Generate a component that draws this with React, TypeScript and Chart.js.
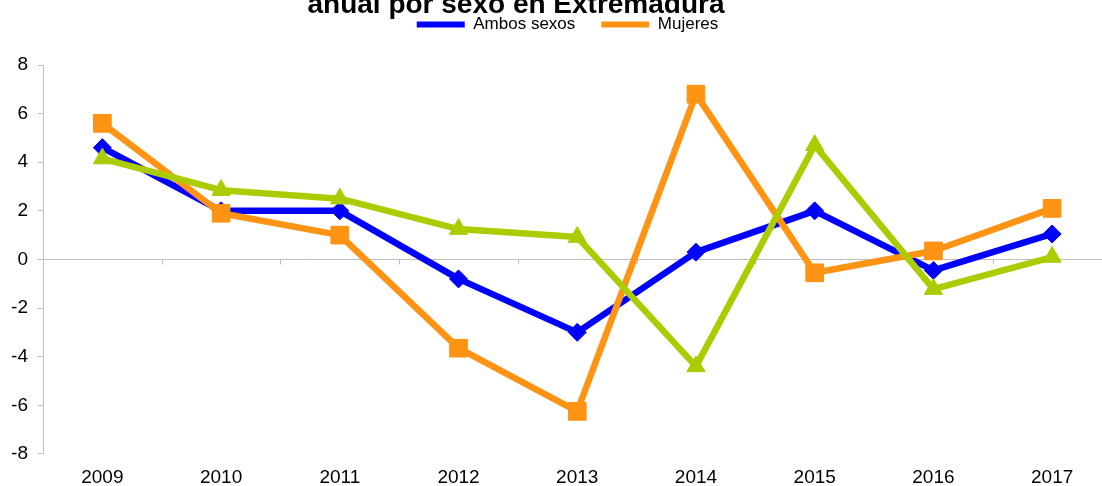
import React, { useEffect, useRef } from 'react';
import { Chart, registerables } from 'chart.js';

Chart.register(...registerables);

const years = ['2009', '2010', '2011', '2012', '2013', '2014', '2015', '2016', '2017'];
const ambosSexos = [4.6, 2.0, 2.0, -0.8, -3.0, 0.3, 2.0, -0.45, 1.05];
const mujeres = [5.6, 1.9, 1.0, -3.65, -6.25, 6.8, -0.55, 0.35, 2.1];
const hombres = [4.15, 2.85, 2.5, 1.25, 0.92, -4.4, 4.7, -1.22, 0.1];
const titleLine = 'anual por sexo en Extremadura';
const seriesNames = ['Ambos sexos', 'Mujeres', 'Hombres'];

const FONT = '"Liberation Sans", Arial, sans-serif';
const BLUE = '#0000FF';
const ORANGE = '#FF9314';
const GREEN = '#AACC00';
const GRAY = '#BFBFBF';

const titlePlugin = {
  id: 'topTitle',
  afterDraw(chart: any) {
    const ctx = chart.ctx;
    ctx.save();
    ctx.font = 'bold 28px ' + FONT;
    ctx.fillStyle = '#000';
    ctx.textAlign = 'center';
    ctx.textBaseline = 'alphabetic';
    ctx.fillText(titleLine, 516, 13);
    ctx.restore();
  },
};

const legendShiftPlugin = {
  id: 'legendShift',
  afterLayout(chart: any) {
    const lg = chart.legend;
    if (lg) {
      lg.left += 11;
      lg.right += 11;
    }
  },
};

const zeroTicksPlugin = {
  id: 'zeroTicks',
  beforeDatasetsDraw(chart: any) {
    const { ctx, scales } = chart;
    const x = scales.x;
    const y = scales.y;
    const y0 = Math.round(y.getPixelForValue(0)) + 0.5;
    ctx.save();
    ctx.strokeStyle = GRAY;
    ctx.lineWidth = 1;
    for (let i = 0; i <= years.length; i++) {
      const px = Math.round(x.getPixelForValue(i - 0.5)) + 0.5;
      ctx.beginPath();
      ctx.moveTo(px, y0);
      ctx.lineTo(px, y0 + 5);
      ctx.stroke();
    }
    ctx.restore();
  },
};

export default function App() {
  const ref = useRef<HTMLCanvasElement | null>(null);

  useEffect(() => {
    if (!ref.current) return;
    const mk = (label: string, data: number[], color: string, style: string, radius: number, order: number) => ({
      label,
      data,
      borderColor: color,
      backgroundColor: color,
      pointBackgroundColor: color,
      pointBorderColor: color,
      pointStyle: style,
      pointRadius: radius,
      pointBorderWidth: 1,
      borderWidth: 6.5,
      tension: 0,
      borderJoinStyle: 'round',
      borderCapStyle: 'round',
      fill: false,
      order,
    });
    const chart = new Chart(ref.current, {
      type: 'line',
      data: {
        labels: years,
        datasets: [
          mk(seriesNames[0], ambosSexos, BLUE, 'rectRot', 9, 3),
          mk(seriesNames[1], mujeres, ORANGE, 'rect', 12.5, 2),
          mk(seriesNames[2], hombres, GREEN, 'triangle', 10.5, 1),
        ] as any,
      },
      options: {
        animation: false,
        responsive: false,
        maintainAspectRatio: false,
        layout: { padding: { top: -10, right: 12, left: 0, bottom: -16 } },
        plugins: {
          title: { display: false },
          tooltip: { enabled: false },
          legend: {
            display: true,
            position: 'top',
            labels: {
              boxWidth: 48,
              boxHeight: 6,
              padding: 26,
              color: '#000',
              font: { size: 17, family: FONT },
              generateLabels: (c: any) =>
                Chart.defaults.plugins.legend.labels
                  .generateLabels(c)
                  .map((l: any) => ({ ...l, fillStyle: l.strokeStyle, lineWidth: 0 })),
              filter: (item: any) => item.datasetIndex !== 2,
              sort: (a: any, b: any) => a.datasetIndex - b.datasetIndex,
            },
          },
        },
        scales: {
          x: {
            position: 'bottom',
            offset: true,
            grid: { display: false, drawTicks: false, offset: true },
            border: { display: false },
            ticks: {
              color: '#000',
              font: { size: 19, family: FONT, lineHeight: 0.9 },
              padding: 15.5,
              maxRotation: 0,
              autoSkip: false,
            },
          },
          x2: {
            type: 'category',
            labels: years,
            position: 'top',
            offset: true,
            grid: { display: false, drawTicks: false },
            border: { display: false },
            ticks: { display: false },
            afterFit: (s: any) => {
              s.height = 22;
            },
          },
          y: {
            min: -8,
            max: 8,
            ticks: {
              stepSize: 2,
              color: '#000',
              font: { size: 19, family: FONT },
              padding: 10,
            },
            grid: {
              color: (c: any) => (c.tick && c.tick.value === 0 ? GRAY : 'rgba(0,0,0,0)'),
              tickColor: GRAY,
              tickLength: 5,
              lineWidth: 1,
            },
            border: { color: GRAY, width: 1 },
            afterFit: (s: any) => {
              s.width = 43;
            },
          },
        },
      } as any,
      plugins: [titlePlugin, legendShiftPlugin, zeroTicksPlugin],
    });
    return () => chart.destroy();
  }, []);

  return (
    <div style={{ position: 'fixed', left: 0, top: 0, width: 1102, height: 486, overflow: 'hidden', background: '#fff' }}>
      <canvas ref={ref} width={1125} height={486} style={{ width: 1125, height: 486, display: 'block' }} />
    </div>
  );
}
